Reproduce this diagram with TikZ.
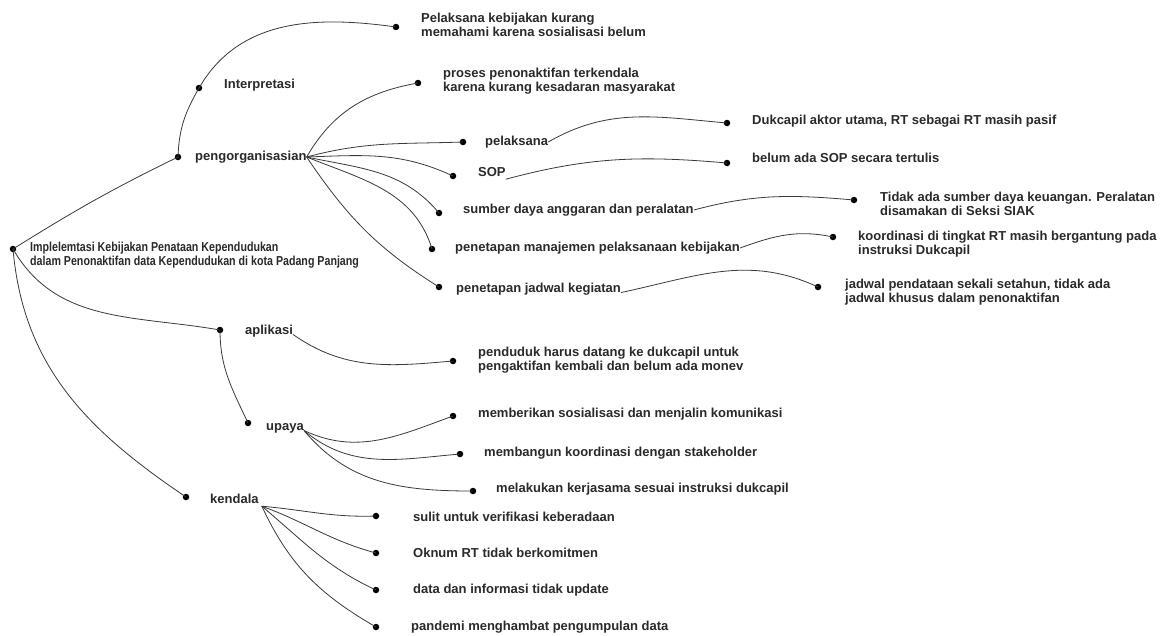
\documentclass[tikz,border=0pt]{standalone}
\usepackage{fontspec}
\setmainfont{Liberation Sans}
\newfontfamily\narrowfont[FakeStretch=0.82]{Liberation Sans}
\definecolor{txt}{HTML}{2A2A2A}
\definecolor{lnk}{HTML}{3A3A3A}
\begin{document}
\begin{tikzpicture}[x=1pt,y=1pt,
  lbl/.style={anchor=west,inner sep=0pt,font=\bfseries\fontsize{13}{14}\selectfont,text=txt,text height=9.5pt,text depth=2.5pt},
  lbltwo/.style={anchor=west,inner sep=0pt,font=\bfseries\fontsize{13}{14}\selectfont,text=txt,align=left},
  dot/.style={circle,fill=black,inner sep=0pt,minimum size=6.5pt},
  link/.style={draw=lnk,line width=0.8pt}]
\useasboundingbox (0,0) rectangle (1166,-635);
\fill[white] (0,0) rectangle (1166,-635);

% root
\node[dot] (d0) at (13,-249) {};
\node[lbltwo,font=\narrowfont\bfseries\fontsize{13}{14.5}\selectfont] (t0) at (30,-255) {Implelemtasi Kebijakan Penataan Kependudukan\\dalam Penonaktifan data Kependudukan di kota Padang Panjang};

% interpretasi
\node[dot] (dI) at (199,-88) {};
\node[lbl] (tI) at (224,-85) {Interpretasi};
\node[dot] (dIa) at (396,-27) {};
\node[lbltwo] (tIa) at (421,-25) {Pelaksana kebijakan kurang\\memahami karena sosialisasi belum};

% pengorganisasian
\node[dot] (dP) at (178,-157) {};
\node[lbl] (tP) at (195,-157) {pengorganisasian};
\node[dot] (dP1) at (418,-83) {};
\node[lbltwo] (tP1) at (443,-81) {proses penonaktifan terkendala\\karena kurang kesadaran masyarakat};
\node[dot] (dP2) at (463,-142) {};
\node[lbl] (tP2) at (485,-142) {pelaksana};
\node[dot] (dP3) at (453,-176) {};
\node[lbl] (tP3) at (478,-173) {SOP};
\node[dot] (dP4) at (439,-213) {};
\node[lbl] (tP4) at (463,-210) {sumber daya anggaran dan peralatan};
\node[dot] (dP5) at (432,-249) {};
\node[lbl] (tP5) at (455,-248) {penetapan manajemen pelaksanaan kebijakan};
\node[dot] (dP6) at (439,-287) {};
\node[lbl] (tP6) at (456,-289) {penetapan jadwal kegiatan};

\node[dot] (dQ2) at (727,-123) {};
\node[lbl] (tQ2) at (752,-121) {Dukcapil aktor utama, RT sebagai RT masih pasif};
\node[dot] (dQ3) at (727,-163) {};
\node[lbl] (tQ3) at (752,-159) {belum ada SOP secara tertulis};
\node[dot] (dQ4) at (854,-200) {};
\node[lbltwo] (tQ4) at (880,-204) {Tidak ada sumber daya keuangan. Peralatan\\disamakan di Seksi SIAK};
\node[dot] (dQ5) at (833,-237) {};
\node[lbltwo] (tQ5) at (858,-244) {koordinasi di tingkat RT masih bergantung pada\\instruksi Dukcapil};
\node[dot] (dQ6) at (818,-287) {};
\node[lbltwo] (tQ6) at (845,-292) {jadwal pendataan sekali setahun, tidak ada\\jadwal khusus dalam penonaktifan};

% aplikasi
\node[dot] (dA) at (220,-330) {};
\node[lbl] (tA) at (245,-331) {aplikasi};
\node[dot] (dA1) at (453,-361) {};
\node[lbltwo] (tA1) at (478,-360) {penduduk harus datang ke dukcapil untuk\\pengaktifan kembali dan belum ada monev};

% upaya
\node[dot] (dU) at (248,-423) {};
\node[lbl] (tU) at (266,-427) {upaya};
\node[dot] (dU1) at (453,-416) {};
\node[lbl] (tU1) at (478,-414) {memberikan sosialisasi dan menjalin komunikasi};
\node[dot] (dU2) at (460,-454) {};
\node[lbl] (tU2) at (484,-453) {membangun koordinasi dengan stakeholder};
\node[dot] (dU3) at (473,-491) {};
\node[lbl] (tU3) at (496,-489) {melakukan kerjasama sesuai instruksi dukcapil};

% kendala
\node[dot] (dK) at (186,-497) {};
\node[lbl] (tK) at (210,-500) {kendala};
\node[dot] (dK1) at (376,-516) {};
\node[lbl] (tK1) at (413,-518) {sulit untuk verifikasi keberadaan};
\node[dot] (dK2) at (376,-553) {};
\node[lbl] (tK2) at (413,-554) {Oknum RT tidak berkomitmen};
\node[dot] (dK3) at (376,-590) {};
\node[lbl] (tK3) at (413,-590) {data dan informasi tidak update};
\node[dot] (dK4) at (376,-627) {};
\node[lbl] (tK4) at (411,-627) {pandemi menghambat pengumpulan data};

% connectors
\draw[link] (d0.center) to[out=32,in=206] (dP.center);
\draw[link] (dP.center) to[out=88,in=240] (dI.center);
\draw[link] (dI.center) to[out=60,in=172] (dIa.center);

\draw[link] (tP.east) to[out=60,in=190] (dP1.center);
\draw[link] (tP.east) to[out=15,in=182] (dP2.center);
\draw[link] (tP.east) to[out=2,in=155] (dP3.center);
\draw[link] (tP.east) to[out=-12,in=130] (dP4.center);
\draw[link] (tP.east) to[out=-22,in=107] (dP5.center);
\draw[link] (tP.east) to[out=-56,in=148] (dP6.center);

\draw[link] (tP2.east) to[out=30,in=175] (dQ2.center);
\draw[link] (tP3.south east) to[out=15,in=175] (dQ3.center);
\draw[link] (tP4.east) to[out=15,in=175] (dQ4.center);
\draw[link] (tP5.east) to[out=20,in=168] (dQ5.center);
\draw[link] (tP6.base east) to[out=12,in=155] (dQ6.center);

\draw[link] (d0.center) to[out=-60,in=170] (dA.center);
\draw[link] (tA.base east) to[out=-35,in=185] (dA1.center);
\draw[link] (dA.center) to[out=-90,in=115] (dU.center);

\draw[link] (tU.base east) to[out=-25,in=200] (dU1.center);
\draw[link] (tU.base east) to[out=-40,in=185] (dU2.center);
\draw[link] (tU.base east) to[out=-50,in=180] (dU3.center);

\draw[link] (d0.center) to[out=-85,in=146] (dK.center);
\draw[link] ([xshift=3pt]tK.south east) to[out=-5,in=182] (dK1.center);
\draw[link] ([xshift=3pt]tK.south east) to[out=-20,in=165] (dK2.center);
\draw[link] ([xshift=3pt]tK.south east) to[out=-40,in=155] (dK3.center);
\draw[link] ([xshift=3pt]tK.south east) to[out=-65,in=150] (dK4.center);
\end{tikzpicture}
\end{document}
